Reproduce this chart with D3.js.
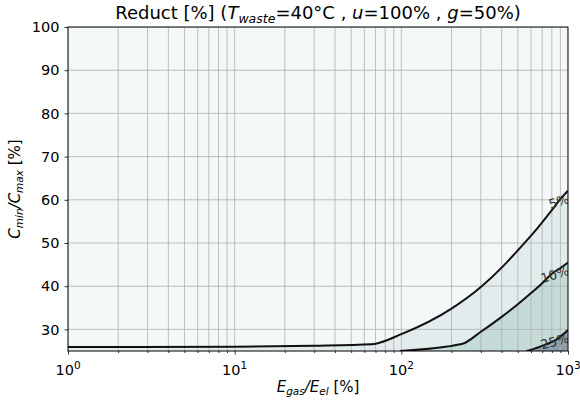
<!DOCTYPE html>
<html>
<head>
<meta charset="utf-8">
<script src="https://cdn.jsdelivr.net/npm/d3@7"></script>
<style>
  body { margin: 0; background: #fff; }
  svg { font-family: "DejaVu Sans", sans-serif; }
</style>
</head>
<body>
<svg id="chart" width="580" height="408"></svg>
<script>
// Contour levels of the reduction [%] and their traced iso-lines
const levels = [5, 10, 25];
const levelLabels = ["5%", "10%", "25%"];

// Iso-line for 5 %: x = Egas/Eel [%], y = Cmin/Cmax [%]
const line5x = [1, 10, 30, 66.4, 100, 200, 300, 400, 500, 600, 700, 800, 900, 1000];
const line5y = [25.9, 26.0, 26.2, 26.55, 28.9, 34.8, 39.8, 44.3, 48.3, 51.7, 54.8, 57.6, 60.2, 62.1];

// Iso-line for 10 %
const line10x = [98, 230, 300, 400, 500, 600, 700, 800, 900, 1000];
const line10y = [25.0, 26.6, 29.45, 32.9, 35.8, 38.4, 40.7, 42.9, 44.2, 45.5];

// Iso-line for 25 %
const line25x = [565, 700, 855, 1000];
const line25y = [25.0, 26.2, 27.7, 29.85];

// Filled band colours: below 5 %, 5–10 %, 10–25 %, above 25 %
const bandColors = ["#f4f8f9", "#e3eced", "#c5dbd8", "#8c9eab"];

const xMajorTicks = [1, 10, 100, 1000];
const xMajorExp = ["0", "1", "2", "3"];
const yTicks = [30, 40, 50, 60, 70, 80, 90, 100];

const xDomain = [1, 1000];
const yDomain = [25, 100];

const svg = d3.select("#chart");
const margin = { left: 68, right: 12, top: 27, bottom: 57 };
const W = 580, H = 408;

const x = d3.scaleLog().domain(xDomain).range([margin.left, W - margin.right]);
const y = d3.scaleLinear().domain(yDomain).range([H - margin.bottom, margin.top]);

const lines = [
  line5x.map((v, i) => [v, line5y[i]]),
  line10x.map((v, i) => [v, line10y[i]]),
  line25x.map((v, i) => [v, line25y[i]])
];

svg.append("defs").append("clipPath").attr("id", "plotClip")
  .append("rect")
  .attr("x", x(xDomain[0])).attr("y", y(yDomain[1]))
  .attr("width", x(xDomain[1]) - x(xDomain[0]))
  .attr("height", y(yDomain[0]) - y(yDomain[1]));

const plot = svg.append("g").attr("clip-path", "url(#plotClip)");

// background band (lowest level)
plot.append("rect")
  .attr("x", x(xDomain[0])).attr("y", y(yDomain[1]))
  .attr("width", x(xDomain[1]) - x(xDomain[0]))
  .attr("height", y(yDomain[0]) - y(yDomain[1]))
  .attr("fill", bandColors[0]);

// filled regions below each iso-line, closed along the bottom edge
const curve = d3.curveMonotoneX;
const area = d3.area()
  .curve(curve)
  .x(d => x(d[0]))
  .y0(y(yDomain[0]))
  .y1(d => y(d[1]));

lines.forEach((pts, i) => {
  plot.append("path")
    .attr("d", area(pts))
    .attr("fill", bandColors[i + 1]);
});

// grid: major and minor decades on x, every 10 on y
const xMinor = [];
for (let e = 0; e < 3; e++) {
  for (let m = 2; m <= 9; m++) xMinor.push(m * Math.pow(10, e));
}
const gridColor = "#b0b0b0";
plot.selectAll(".vgrid")
  .data(xMajorTicks.concat(xMinor))
  .join("line")
  .attr("x1", d => x(d)).attr("x2", d => x(d))
  .attr("y1", y(yDomain[0])).attr("y2", y(yDomain[1]))
  .attr("stroke", gridColor).attr("stroke-width", 0.8);
plot.selectAll(".hgrid")
  .data(yTicks)
  .join("line")
  .attr("x1", x(xDomain[0])).attr("x2", x(xDomain[1]))
  .attr("y1", d => y(d)).attr("y2", d => y(d))
  .attr("stroke", gridColor).attr("stroke-width", 0.8);

// iso-lines
const lineGen = d3.line().curve(curve).x(d => x(d[0])).y(d => y(d[1]));
lines.forEach(pts => {
  plot.append("path")
    .attr("d", lineGen(pts))
    .attr("fill", "none")
    .attr("stroke", "#111")
    .attr("stroke-width", 2)
    .attr("stroke-linejoin", "round");
});

// inline level labels at the right end of each iso-line
const labelRot = [-18, -18, -15];
lines.forEach((pts, i) => {
  const last = pts[pts.length - 1];
  const lx = x(last[0]) + 2;
  const ly = y(last[1]) + 12;
  plot.append("text")
    .attr("transform", `translate(${lx},${ly}) rotate(${labelRot[i]})`)
    .attr("text-anchor", "end")
    .attr("font-size", 13)
    .attr("fill", "#333")
    .text(levelLabels[i]);
});

// frame
svg.append("rect")
  .attr("x", x(xDomain[0])).attr("y", y(yDomain[1]))
  .attr("width", x(xDomain[1]) - x(xDomain[0]))
  .attr("height", y(yDomain[0]) - y(yDomain[1]))
  .attr("fill", "none").attr("stroke", "#000").attr("stroke-width", 1);

// x axis: major ticks with power-of-ten labels, minor ticks without
const xAxisG = svg.append("g").attr("transform", `translate(0,${y(yDomain[0])})`);
xAxisG.call(d3.axisBottom(x).tickValues(xMajorTicks).tickSize(3.5).tickFormat(() => ""));
const xMinorG = svg.append("g").attr("transform", `translate(0,${y(yDomain[0])})`);
xMinorG.call(d3.axisBottom(x).tickValues(xMinor).tickSize(2).tickFormat(() => ""));
[xAxisG, xMinorG].forEach(g => {
  g.select(".domain").remove();
  g.selectAll("line").attr("stroke", "#000").attr("stroke-width", 0.8);
});
xAxisG.selectAll(".tick text").remove();
xMajorTicks.forEach((v, i) => {
  const t = svg.append("text")
    .attr("x", x(v)).attr("y", y(yDomain[0]) + 24)
    .attr("text-anchor", "middle")
    .attr("font-size", 14.5)
    .attr("fill", "#000");
  t.append("tspan").text("10");
  t.append("tspan").attr("dy", -6).attr("font-size", 10.5).text(xMajorExp[i]);
});

// y axis
const yAxisG = svg.append("g").attr("transform", `translate(${x(xDomain[0])},0)`);
yAxisG.call(d3.axisLeft(y).tickValues(yTicks).tickSize(3.5).tickPadding(5));
yAxisG.select(".domain").remove();
yAxisG.selectAll("line").attr("stroke", "#000").attr("stroke-width", 0.8);
yAxisG.selectAll("text")
  .attr("font-family", "DejaVu Sans, sans-serif")
  .attr("font-size", 14.5).attr("fill", "#000");

// title
const title = svg.append("text")
  .attr("x", (x(xDomain[0]) + x(xDomain[1])) / 2)
  .attr("y", 19)
  .attr("text-anchor", "middle")
  .attr("font-size", 18)
  .attr("fill", "#000");
title.append("tspan").text("Reduct [%] (");
title.append("tspan").attr("font-style", "italic").text("T");
title.append("tspan").attr("font-style", "italic").attr("font-size", 12.5).attr("dy", 4).text("waste");
title.append("tspan").attr("dy", -4).text("=40°C , ");
title.append("tspan").attr("font-style", "italic").text("u");
title.append("tspan").text("=100% , ");
title.append("tspan").attr("font-style", "italic").text("g");
title.append("tspan").text("=50%)");

// x label
const xl = svg.append("text")
  .attr("x", (x(xDomain[0]) + x(xDomain[1])) / 2)
  .attr("y", 392)
  .attr("text-anchor", "middle")
  .attr("font-size", 15)
  .attr("fill", "#000");
xl.append("tspan").attr("font-style", "italic").text("E");
xl.append("tspan").attr("font-style", "italic").attr("font-size", 10.5).attr("dy", 3).text("gas");
xl.append("tspan").attr("dy", -3).attr("font-style", "italic").text("/E");
xl.append("tspan").attr("font-style", "italic").attr("font-size", 10.5).attr("dy", 3).text("el");
xl.append("tspan").attr("dy", -3).text(" [%]");

// y label
const yl = svg.append("text")
  .attr("transform", `translate(20,${(y(yDomain[0]) + y(yDomain[1])) / 2}) rotate(-90)`)
  .attr("text-anchor", "middle")
  .attr("font-size", 15)
  .attr("fill", "#000");
yl.append("tspan").attr("font-style", "italic").text("C");
yl.append("tspan").attr("font-style", "italic").attr("font-size", 10.5).attr("dy", 3).text("min");
yl.append("tspan").attr("dy", -3).attr("font-style", "italic").text("/C");
yl.append("tspan").attr("font-style", "italic").attr("font-size", 10.5).attr("dy", 3).text("max");
yl.append("tspan").attr("dy", -3).text(" [%]");
</script>
</body>
</html>
